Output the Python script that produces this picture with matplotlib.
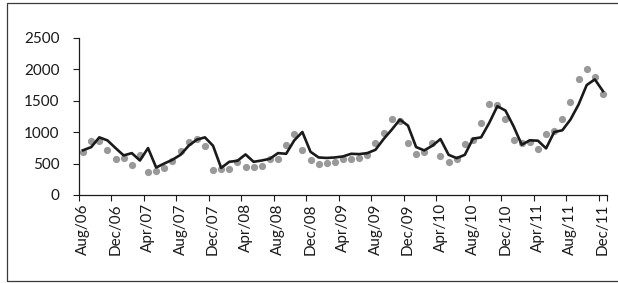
import matplotlib.pyplot as plt
from matplotlib.patches import Rectangle
from matplotlib.ticker import FixedLocator

# Monthly data Aug/06 .. Dec/11
months = ['Jan', 'Feb', 'Mar', 'Apr', 'May', 'Jun', 'Jul', 'Aug', 'Sep', 'Oct', 'Nov', 'Dec']
labels = []
for k in range(65):
    m = (7 + k) % 12
    y = 6 + (7 + k) // 12
    labels.append('%s/%02d' % (months[m], y))

actual = [681, 851, 851, 713, 575, 580, 484, 633, 362, 383, 436, 537, 702, 846, 888,
          782, 399, 415, 415, 527, 442, 442, 468, 569, 575, 793, 963, 718, 553, 495,
          505, 516, 569, 575, 591, 633, 830, 990, 1213, 1170, 819, 654, 686, 830, 622,
          516, 569, 803, 878, 1149, 1447, 1436, 1213, 867, 819, 841, 724, 963, 1011, 1202,
          1479, 1835, 2006, 1867, 1596]
fitted = [710, 760, 915, 867, 745, 628, 665, 548, 745, 436, 500, 559, 638, 782, 878,
          915, 782, 430, 527, 543, 644, 527, 548, 575, 665, 654, 867, 1000, 686, 596,
          588, 596, 612, 654, 649, 665, 718, 888, 1037, 1197, 1101, 761, 708, 782, 888,
          638, 585, 638, 894, 915, 1144, 1410, 1340, 1090, 798, 868, 862, 740, 1000, 1027,
          1197, 1436, 1745, 1835, 1649]

W, H = 618, 283
fig = plt.figure(figsize=(W / 100, H / 100), dpi=100)
fig.patch.set_facecolor('white')
plt.rcParams['font.family'] = ['Lato', 'DejaVu Sans']

ax = fig.add_axes([79 / W, 88 / H, (607 - 79) / W, (195 - 37.5) / H])
x = list(range(len(actual)))
ax.plot(x, actual, 'o', color='#999999', markersize=5.2, markeredgewidth=0, zorder=2)
ax.plot(x, fitted, '-', color='#1a1a1a', linewidth=1.9, zorder=3)

ax.set_xlim(-0.5, 64.5)
ax.set_ylim(0, 2500)
ax.set_yticks([0, 500, 1000, 1500, 2000, 2500])

lab_pos = list(range(0, 65, 4))
ax.set_xticks(lab_pos)
ax.set_xticklabels([labels[i] for i in lab_pos], rotation=90)
ax.tick_params(axis='x', which='major', length=0, pad=6, labelsize=11, colors='#1a1a1a')
ax.xaxis.set_minor_locator(FixedLocator([i - 0.5 for i in range(0, 65, 4)] + [64.5]))
ax.tick_params(axis='x', which='minor', length=4, width=0.8, direction='out', color='#1a1a1a')
ax.tick_params(axis='y', length=4, width=0.8, direction='out', pad=10, labelsize=11,
               colors='#1a1a1a')

for s in ['top', 'right']:
    ax.spines[s].set_visible(False)
for s in ['left', 'bottom']:
    ax.spines[s].set_color('#1a1a1a')
    ax.spines[s].set_linewidth(0.9)

# outer chart frame
fig.patches.append(Rectangle((7 / W, (H - 281) / H), (W + 5 - 7) / W, (281 - 3) / H,
                             transform=fig.transFigure, fill=False,
                             edgecolor='#3a3a3a', linewidth=0.9))

fig.savefig('out.png', dpi=100)
